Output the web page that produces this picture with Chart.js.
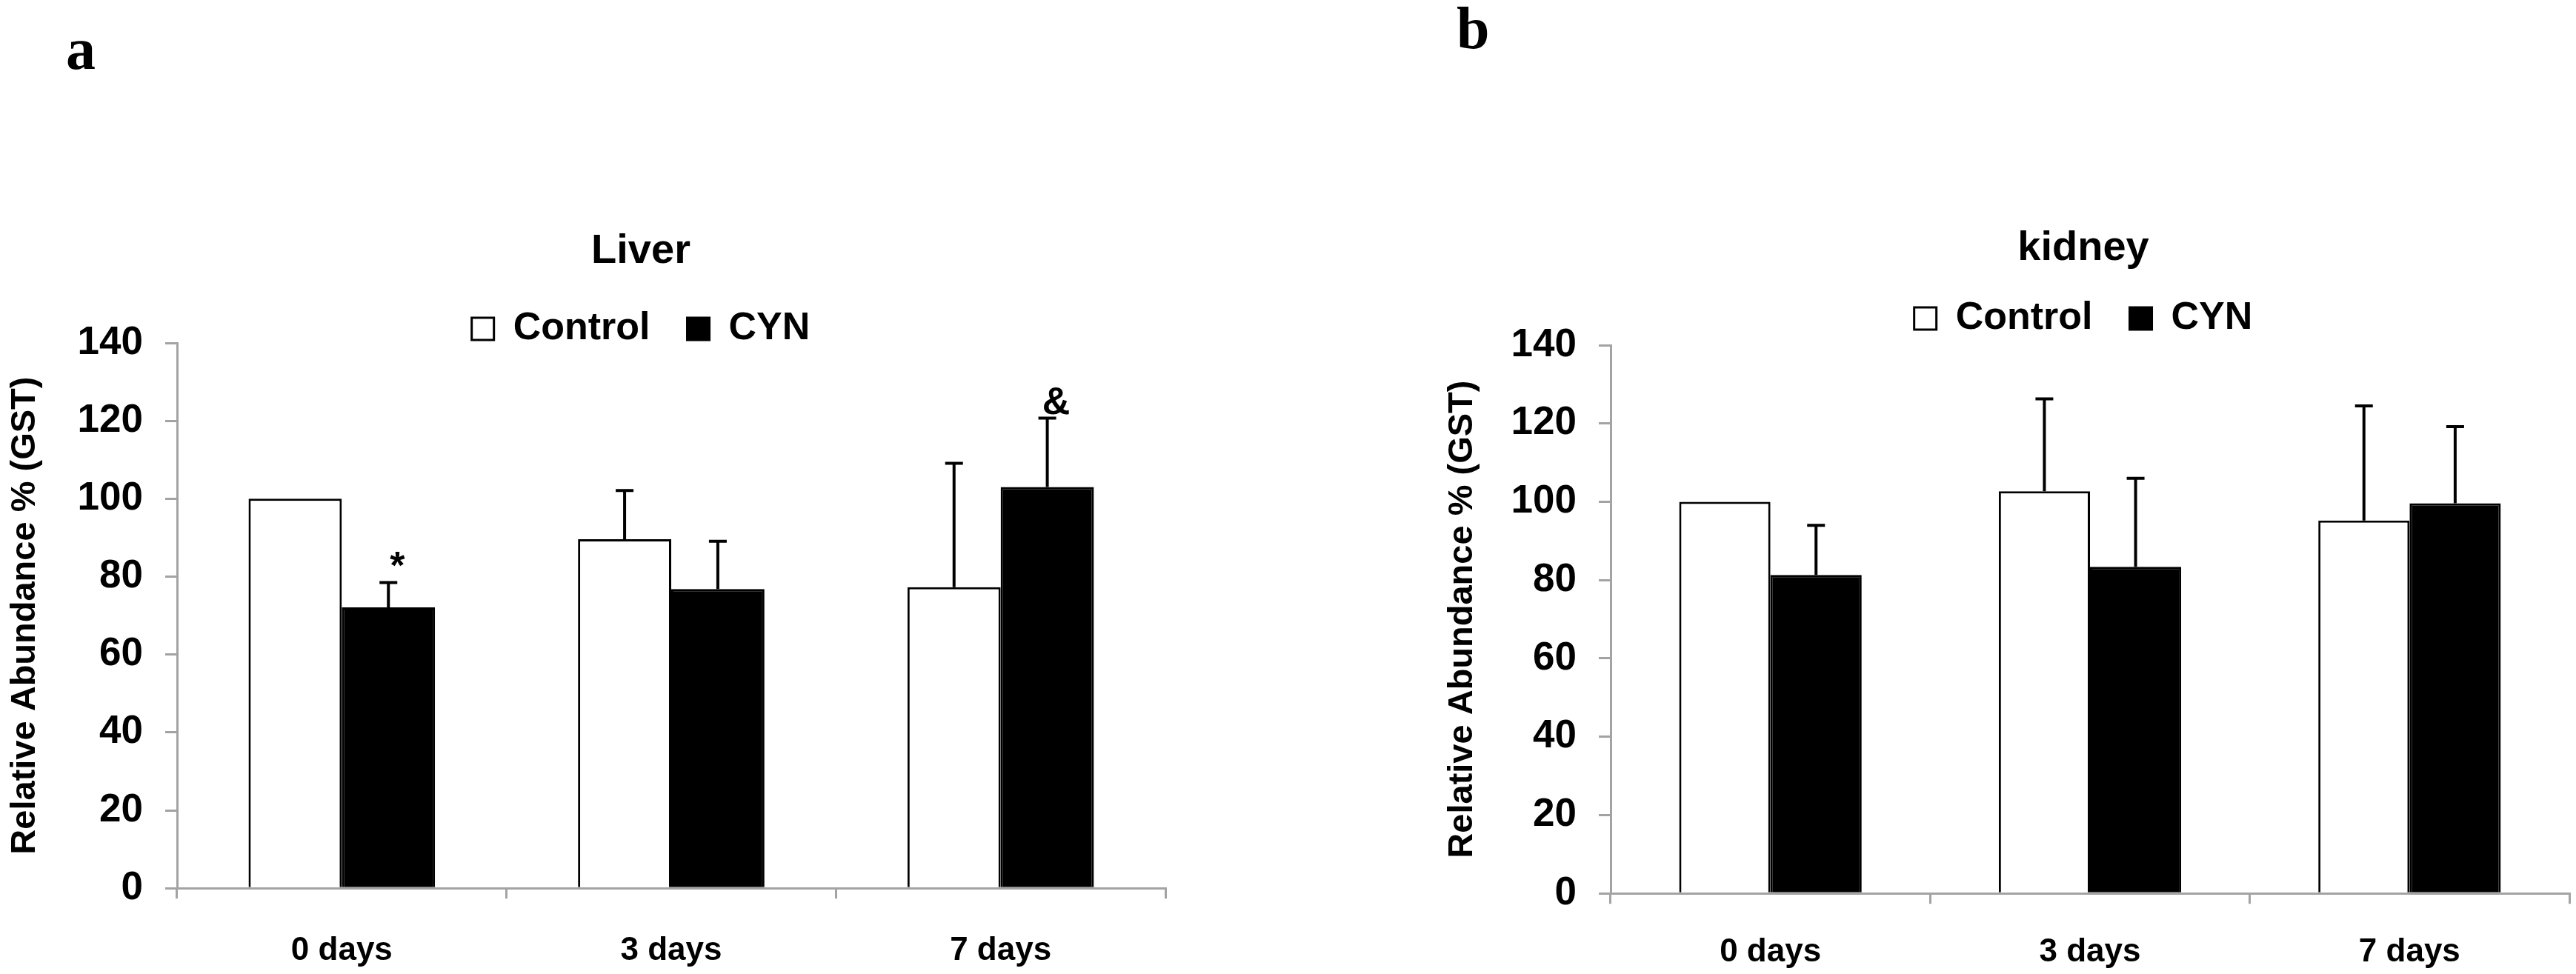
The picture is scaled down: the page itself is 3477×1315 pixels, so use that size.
<!DOCTYPE html>
<html lang="en">

<head>
  <title>Relative abundance of GST</title>
  <meta charset="UTF-8">
  <script src="https://cdn.jsdelivr.net/npm/chart.js@4.4.1/dist/chart.umd.min.js"></script>
  <style>
    html, body { margin: 0; padding: 0; width: 3477px; height: 1315px; overflow: hidden; background: #fff; }
    .panel { position: absolute; top: 0; }
    .tag { position: absolute; font: bold 80px "Liberation Serif", "Times New Roman", serif; line-height: 1; color: #000; }
  </style>
</head>

<body>
  <div class="tag" style="left: 89px; top: 26px;">a</div>
  <div class="tag" style="left: 1966px; top: -2px;">b</div>
  <!-- panels run a little past the bottom edge so the x axis lands where the figure has it -->
  <div class="panel" style="left: 0; width: 1730px; height: 1354px;"><canvas id="liver"></canvas></div>
  <div class="panel" style="left: 1935px; width: 1754px; height: 1351px;"><canvas id="kidney"></canvas></div>
  <script>
    const categories = ["0 days", "3 days", "7 days"];
    const seriesNames = ["Control", "CYN"];
    const yTicks = [0, 20, 40, 60, 80, 100, 120, 140];
    const yTitle = "Relative Abundance % (GST)";

    // liver (panel a)
    const liverControl = [100, 89.6, 77.3];
    const liverControlErr = [0, 12.5, 31.8];
    const liverCyn = [72.1, 76.8, 103.0];
    const liverCynErr = [6.4, 12.3, 17.7];
    const liverCynMarks = ["*", "", "&"];

    // kidney (panel b)
    const kidneyControl = [100, 102.7, 95.2];
    const kidneyControlErr = [0, 23.6, 29.3];
    const kidneyCyn = [81.3, 83.4, 99.6];
    const kidneyCynErr = [12.7, 22.6, 19.6];
    const kidneyCynMarks = ["", "", ""];

    const axisGray = "#a3a3a3";
    Chart.defaults.font.family = '"Liberation Sans", Arial, sans-serif';
    Chart.defaults.color = "#000";

    // one-sided error bars + significance marks, placed with the chart's own scales
    const errorBars = {
      id: "errorBars",
      afterDatasetsDraw(chart) {
        const ctx = chart.ctx;
        const y = chart.scales.y;
        chart.data.datasets.forEach((ds, di) => {
          chart.getDatasetMeta(di).data.forEach((bar, i) => {
            const err = ds.errors[i];
            const top = y.getPixelForValue(ds.data[i] + err);
            ctx.save();
            ctx.strokeStyle = "#000";
            ctx.lineWidth = 4;
            if (err > 0) {
              ctx.beginPath();
              ctx.moveTo(bar.x, bar.y);
              ctx.lineTo(bar.x, top);
              ctx.moveTo(bar.x - 12, top);
              ctx.lineTo(bar.x + 12, top);
              ctx.stroke();
            }
            if (ds.marks && ds.marks[i]) {
              ctx.fillStyle = "#000";
              ctx.font = 'bold 52px "Liberation Sans", Arial, sans-serif';
              ctx.textAlign = "center";
              ctx.textBaseline = "alphabetic";
              ctx.fillText(ds.marks[i], bar.x + 12, top - 5);
            }
            ctx.restore();
          });
        });
      }
    };

    // lets the legend sit a little lower, over the top of the axis
    const legendNudge = {
      id: "legendNudge",
      afterLayout(chart, args, opts) {
        if (chart.legend && opts.dy) {
          chart.legend.top += opts.dy;
          chart.legend.bottom += opts.dy;
        }
      }
    };

    function buildChart(id, cfg) {
      return new Chart(document.getElementById(id), {
        type: "bar",
        data: {
          labels: categories,
          datasets: [{
            label: seriesNames[0],
            data: cfg.control,
            errors: cfg.controlErr,
            backgroundColor: "#fff",
            borderColor: "#000",
            borderWidth: 3,
            categoryPercentage: cfg.catPct,
            barPercentage: 1
          }, {
            label: seriesNames[1],
            data: cfg.cyn,
            errors: cfg.cynErr,
            marks: cfg.cynMarks,
            backgroundColor: "#000",
            borderColor: "#000",
            borderWidth: 3,
            categoryPercentage: cfg.catPct,
            barPercentage: 1
          }]
        },
        plugins: [errorBars, legendNudge],
        options: {
          responsive: true,
          maintainAspectRatio: false,
          animation: false,
          devicePixelRatio: 1,
          layout: { padding: 0 },
          plugins: {
            tooltip: { enabled: false },
            title: {
              display: true,
              text: cfg.title,
              font: { size: 56, weight: "bold", lineHeight: 1 },
              padding: { top: cfg.titleTop, bottom: cfg.titleBottom }
            },
            legend: {
              labels: {
                boxWidth: 30,
                boxHeight: 30,
                padding: 50,
                font: { size: 52, weight: "bold" }
              }
            },
            legendNudge: { dy: cfg.legendDy }
          },
          scales: {
            x: {
              type: "category",
              grid: {
                offset: true,
                drawOnChartArea: false,
                tickLength: 14,
                color: axisGray,
                lineWidth: 3
              },
              border: { color: axisGray, width: 3 },
              ticks: {
                padding: cfg.xPad,
                font: { size: 44, weight: "bold" }
              }
            },
            y: {
              min: 0,
              max: 140,
              afterBuildTicks: function (scale) {
                scale.ticks = yTicks.map(value => ({ value: value }));
              },
              afterFit: function (scale) {
                scale.width = 239;
              },
              grid: {
                drawOnChartArea: false,
                tickLength: 16,
                color: axisGray,
                lineWidth: 3
              },
              border: { color: axisGray, width: 3 },
              ticks: {
                padding: 30,
                font: { size: 53, weight: "bold" }
              },
              title: {
                display: true,
                text: yTitle,
                font: { size: 47, weight: "bold" },
                padding: { top: cfg.yTitlePad, bottom: 0 }
              }
            },
            spacer: {
              type: "linear",
              position: "right",
              display: true,
              grid: { display: false, drawTicks: false },
              border: { display: false },
              ticks: { display: false },
              afterFit: function (scale) {
                scale.width = cfg.rightSpace;
              }
            }
          }
        }
      });
    }

    buildChart("liver", {
      title: "Liver",
      control: liverControl,
      controlErr: liverControlErr,
      cyn: liverCyn,
      cynErr: liverCynErr,
      cynMarks: liverCynMarks,
      catPct: 0.566,
      titleTop: 312,
      titleBottom: -17,
      legendDy: 17,
      xPad: 44,
      yTitlePad: 6,
      rightSpace: 157
    });

    buildChart("kidney", {
      title: "kidney",
      control: kidneyControl,
      controlErr: kidneyControlErr,
      cyn: kidneyCyn,
      cynErr: kidneyCynErr,
      cynMarks: kidneyCynMarks,
      catPct: 0.571,
      titleTop: 308,
      titleBottom: -10,
      legendDy: 0,
      xPad: 39,
      yTitlePad: 11,
      rightSpace: 221
    });
  </script>
</body>

</html>
